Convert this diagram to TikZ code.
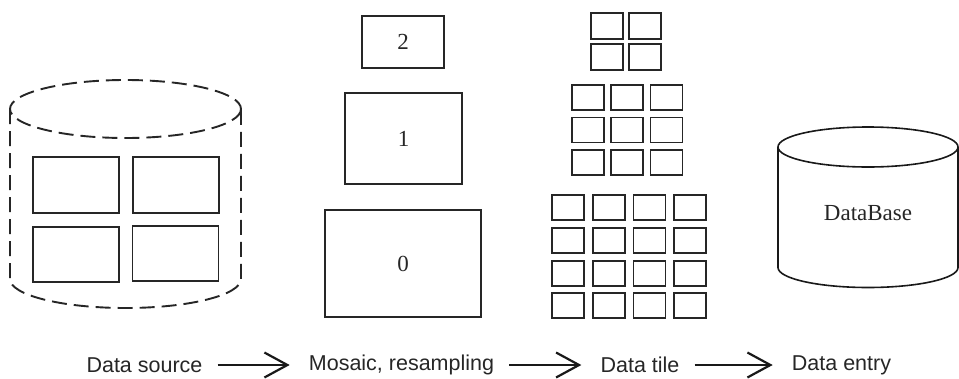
\documentclass[tikz,border=0pt]{standalone}
\usepackage{fontspec}
\setmainfont{Liberation Serif}
\newfontfamily\labelfont{Liberation Sans}
\usetikzlibrary{arrows.meta}
\tikzset{
  box/.style={draw=black!85, line width=1.9pt, inner sep=0pt, minimum width=#1},
  tile/.style={draw=black!85, line width=1.9pt, inner sep=0pt, minimum width=32pt, minimum height=25pt},
  dashcyl/.style={draw=black!85, line width=1.9pt, dash pattern=on 15pt off 7pt},
  dbcyl/.style={draw=black!90, line width=1.6pt},
  numtext/.style={font=\fontsize{23}{26}\selectfont, text=black!85},
  steplabel/.style={font=\labelfont\fontsize{21.5}{24}\selectfont, text=black!85, inner sep=0pt},
  flow/.style={draw=black!90, line width=2.2pt, -{Straight Barb[length=23pt,width=25pt,line width=2.2pt]}, shorten <=15pt, shorten >=19pt}
}
\begin{document}
\begin{tikzpicture}[x=1pt,y=-1pt]
\useasboundingbox (0,0) rectangle (959,378);
% Data source cylinder (dashed)
\draw[dashcyl] (125.5,109) ellipse [x radius=115.5, y radius=29];
\draw[dashcyl] (10,109) -- (10,279) arc[start angle=180, end angle=0, x radius=115.5, y radius=29] -- (241,109);
\node[box=86pt, minimum height=56pt] (s1) at (76,185) {};
\node[box=86pt, minimum height=56pt] (s2) at (176,185) {};
\node[box=86pt, minimum height=55pt] (s3) at (76,254.5) {};
\node[box=86pt, minimum height=55pt] (s4) at (175.5,253.5) {};
% Mosaic levels
\node[box=82pt, minimum height=52pt, numtext] (l2) at (403,42) {2};
\node[box=117pt, minimum height=91pt, numtext] (l1) at (403.5,138.5) {1};
\node[box=156pt, minimum height=107pt, numtext] (l0) at (403,263.5) {0};
% Data tiles
\foreach \x [count=\i] in {607,645}
  \foreach \y [count=\j] in {26,57}
    \node[tile, minimum height=26pt] (ta\i\j) at (\x,\y) {};
\foreach \x [count=\i] in {588,627,666.5}
  \foreach \y [count=\j] in {97.5,130,162.5}
    \node[tile] (tb\i\j) at (\x,\y) {};
\foreach \x [count=\i] in {568,609,649.5,690}
  \foreach \y [count=\j] in {207.5,240.5,273.5,305.5}
    \node[tile] (tc\i\j) at (\x,\y) {};
% DataBase cylinder
\draw[dbcyl] (868,147) ellipse [x radius=90, y radius=20];
\draw[dbcyl] (778,147) -- (778,267.5) arc[start angle=180, end angle=0, x radius=90, y radius=20] -- (958,147);
\node[numtext] (db) at (868,213) {DataBase};
% Step labels
\node[steplabel] (src) at (144.5,365) {Data source};
\node[steplabel] (mos) at (401.5,365) {Mosaic, resampling};
\node[steplabel] (dtile) at (640,365) {Data tile};
\node[steplabel] (entry) at (841.5,365) {Data entry};
\draw[flow] (src) -- (mos);
\draw[flow] (mos) -- (dtile);
\draw[flow] (dtile) -- (entry);
\end{tikzpicture}
\end{document}
